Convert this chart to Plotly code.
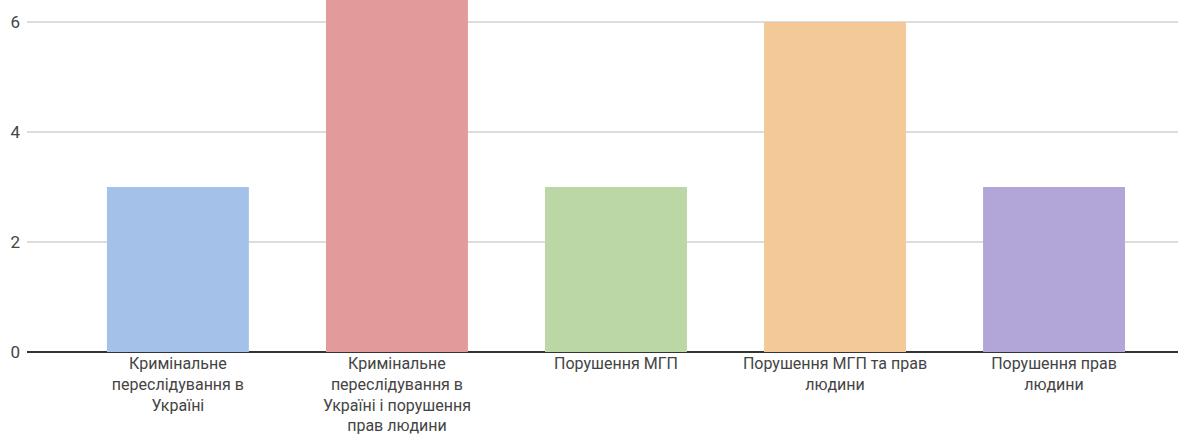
import plotly.graph_objects as go

categories = [
    "Кримінальне<br>переслідування в<br>Україні",
    "Кримінальне<br>переслідування в<br>Україні і порушення<br>прав людини",
    "Порушення МГП",
    "Порушення МГП та прав<br>людини",
    "Порушення прав<br>людини",
]
values = [3, 7, 3, 6, 3]
colors = ["#a4c2e9", "#e29a9a", "#bbd7a6", "#f3c998", "#b2a6d8"]

fig = go.Figure(
    go.Bar(
        x=list(range(len(categories))),
        y=values,
        marker=dict(color=colors, line=dict(width=0)),
        width=0.648,
    )
)

fig.update_layout(
    width=1178,
    height=434,
    margin=dict(l=27, r=0, t=0, b=82, autoexpand=False),
    plot_bgcolor="white",
    paper_bgcolor="white",
    showlegend=False,
    font=dict(family="Roboto, Arial, sans-serif", size=16, color="#444444"),
)
fig.update_xaxes(
    tickmode="array",
    tickvals=list(range(len(categories))),
    ticktext=categories,
    range=[-0.689, 4.566],
    showgrid=False,
    zeroline=False,
    showline=False,
    ticks="",
    automargin=False,
    tickfont=dict(size=16, color="#444444"),
)
fig.update_yaxes(
    range=[0, 6.4],
    tickvals=[0, 2, 4, 6],
    showgrid=True,
    gridcolor="#dddddd",
    gridwidth=1.5,
    zeroline=True,
    zerolinecolor="#333333",
    zerolinewidth=1.5,
    showline=False,
    ticks="",
    automargin=False,
    ticklabelstandoff=6,
    tickfont=dict(size=17, color="#444444"),
)

fig.write_html(
    "out.html",
    config={"displayModeBar": False},
    post_script="document.body.style.margin='0';document.body.style.padding='0';",
)
